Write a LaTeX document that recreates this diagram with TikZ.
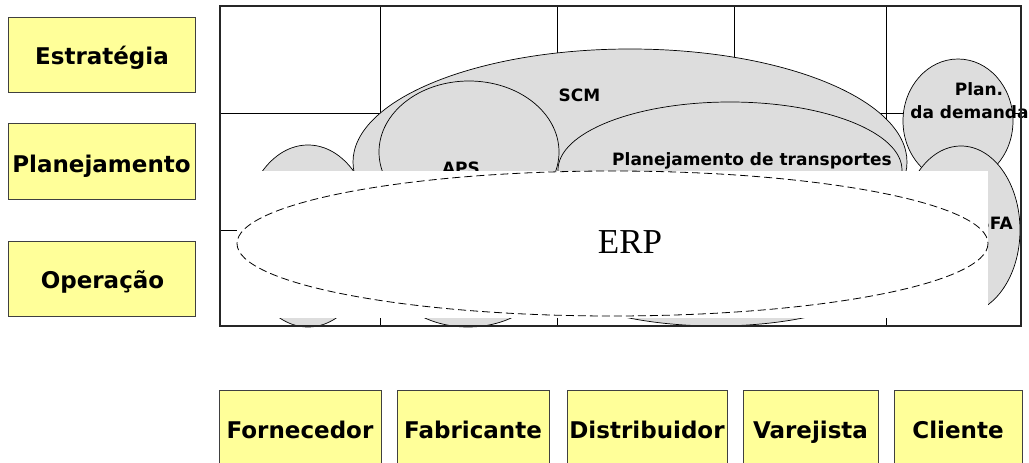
\documentclass[tikz,border=0pt]{standalone}
\usepackage{fontspec}
\setsansfont{DejaVu Sans}
\newfontfamily\erpfont{Liberation Serif}
\definecolor{boxyellow}{HTML}{FFFF99}
\definecolor{ellgray}{HTML}{DDDDDD}
\begin{document}
\begin{tikzpicture}[x=1pt,y=-1pt,
  lbl/.style={font=\sffamily\bfseries\fontsize{23}{27}\selectfont, inner sep=0pt, anchor=base},
  ilbl/.style={font=\sffamily\bfseries\fontsize{17}{20}\selectfont, inner sep=0pt, anchor=base},
  ybox/.style={draw=black!75, fill=boxyellow, line width=1pt, inner sep=0pt},
  ell/.style={draw=black, fill=ellgray, line width=0.7pt},
  gridline/.style={draw=black, line width=0.8pt}]
\clip (0,0) rectangle (1029,463);
\fill[white] (0,0) rectangle (1029,463);
% level boxes
\node[ybox, minimum width=187pt, minimum height=75pt] (bestr) at (101.5,54.5) {};
\node[ybox, minimum width=187pt, minimum height=76pt] (bplan) at (101.5,161) {};
\node[ybox, minimum width=187pt, minimum height=75pt] (boper) at (101.5,278.5) {};
\node[lbl] (testr) at (102,64) {Estratégia};
\node[lbl] (tplan) at (101.5,172) {Planejamento};
\node[lbl] (toper) at (102.5,288) {Operação};
% chain boxes
\node[ybox, minimum width=162pt, minimum height=80pt] (bforn) at (300,430) {};
\node[ybox, minimum width=152pt, minimum height=80pt] (bfabr) at (473,430) {};
\node[ybox, minimum width=160pt, minimum height=80pt] (bdist) at (647,430) {};
\node[ybox, minimum width=135pt, minimum height=80pt] (bvare) at (810.5,430) {};
\node[ybox, minimum width=128pt, minimum height=80pt] (bclie) at (958,430) {};
\node[lbl] (tforn) at (300,438) {Fornecedor};
\node[lbl] (tfabr) at (473,438) {Fabricante};
\node[lbl] (tdist) at (647,438) {Distribuidor};
\node[lbl] (tvare) at (810.5,438) {Varejista};
\node[lbl] (tclie) at (958,438) {Cliente};
% grid
\foreach \gx in {380,557,734,886} \draw[gridline] (\gx,6) -- (\gx,326);
\foreach \gy in {113,230} \draw[gridline] (220,\gy) -- (1021,\gy);
% ellipses
\draw[ell] (308,236) ellipse [x radius=65, y radius=91];
\draw[ell] (630,162) ellipse [x radius=277, y radius=113];
\draw[ell] (469,152) ellipse [x radius=90, y radius=71];
\draw[ell] (730,170) ellipse [x radius=172, y radius=68];
\draw[ell] (468,270) ellipse [x radius=80, y radius=57];
\draw[ell] (716,260) ellipse [x radius=182, y radius=66];
\draw[ell] (958,121) ellipse [x radius=55, y radius=62];
\draw[ell] (961,230) ellipse [x radius=59, y radius=84];
\node[ilbl] (tscm) at (579.5,101) {SCM};
\node[ilbl] (taps) at (461,174.5) {APS};
\node[ilbl] (ttrans) at (752,165) {Planejamento de transportes};
\node[ilbl] (tplan1) at (979,95) {Plan.};
\node[ilbl] (tplan2) at (969.5,118) {da demanda};
\node[ilbl, anchor=base east] (tsfa) at (1013,229) {SFA};
% outer border
\draw[draw=black!85, line width=1.2pt] (220,6) rectangle (1021,326);
% ERP overlay
\fill[white] (237,171) rectangle (988,318);
\draw[dash pattern=on 8pt off 4pt, line width=0.8pt] (612.5,243.5) ellipse [x radius=375.5, y radius=72.5];
\node[font=\erpfont\fontsize{35}{40}\selectfont, inner sep=0pt, anchor=base] (terp) at (630,253) {ERP};
\end{tikzpicture}
\end{document}
